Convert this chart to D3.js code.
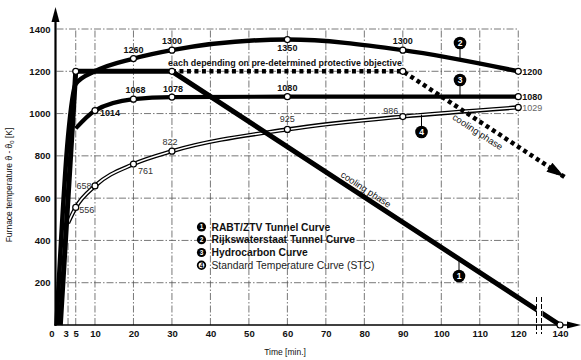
<!DOCTYPE html>
<html>
<head>
<meta charset="utf-8">
<script src="https://cdn.jsdelivr.net/npm/d3@7"></script>
<style>
  html, body { margin: 0; padding: 0; background: #fff; }
  svg { display: block; font-family: "Liberation Sans", Arial, Helvetica, sans-serif; }
</style>
</head>
<body>
<svg id="chart" width="581" height="360"></svg>
<script>
// ---- data -------------------------------------------------------------
const xTicks = [0, 3, 5, 10, 20, 30, 40, 50, 60, 70, 80, 90, 100, 110, 120, 140];
const yTicks = [200, 400, 600, 800, 1000, 1200, 1400];
const gridTimes = [5, 10, 20, 30, 40, 50, 60, 70, 80, 90, 100, 110, 120];

// 1 RABT/ZTV tunnel curve
const rabtTime = [1, 5, 30, 140];
const rabtTemp = [0, 1200, 1200, 0];
// 2 Rijkswaterstaat tunnel curve
const rwsTime = [0, 3, 5, 10, 20, 30, 60, 90, 120];
const rwsTemp = [0, 890, 1140, 1200, 1260, 1300, 1350, 1300, 1200];
// 3 Hydrocarbon curve
const hcTime = [5, 10, 20, 30, 60, 120];
const hcTemp = [930, 1014, 1068, 1078, 1080, 1080];
// 4 Standard temperature curve (STC)
const stcTime = [3, 5, 10, 20, 30, 60, 90, 120];
const stcTemp = [482, 556, 658, 761, 822, 925, 986, 1029];
// hold period depending on protective objective, then cooling
const holdTime = [30, 90, 143];
const holdTemp = [1200, 1200, 700];

const legendNames = [
  "RABT/ZTV Tunnel Curve",
  "Rijkswaterstaat Tunnel Curve",
  "Hydrocarbon Curve",
  "Standard Temperature Curve (STC)"
];

// ---- scales -----------------------------------------------------------
const svg = d3.select("#chart");
// broken time axis: linear up to 125 min, compressed segment to 140 min
const x = d3.scaleLinear().domain([0, 125, 140]).range([56.5, 537.5, 560]);
const y = d3.scaleLinear().domain([0, 1400]).range([325, 29]);

const pts = (t, v) => t.map((d, i) => [d, v[i]]);
const line = d3.line().x(d => x(d[0])).y(d => y(d[1]));
const smooth = d3.line().x(d => x(d[0])).y(d => y(d[1])).curve(d3.curveMonotoneX);

const defs = svg.append("defs");
defs.append("marker").attr("id", "arrowHold")
  .attr("viewBox", "0 0 10 6").attr("refX", 10).attr("refY", 3)
  .attr("markerWidth", 5).attr("markerHeight", 2.4).attr("markerUnits", "strokeWidth")
  .attr("orient", "auto")
  .append("path").attr("d", "M0,0 L10,3 L0,6 Z").attr("fill", "#000");

// ---- grid -------------------------------------------------------------
const grid = svg.append("g").attr("stroke", "#555").attr("stroke-width", 0.8)
  .attr("stroke-dasharray", "7,2,1.5,2").attr("fill", "none");
grid.selectAll("line.v").data(gridTimes).join("line")
  .attr("x1", d => x(d)).attr("x2", d => x(d))
  .attr("y1", y(0)).attr("y2", y(1400));
grid.append("line").attr("x1", x(3)).attr("x2", x(3)).attr("y1", y(0)).attr("y2", y(400));
grid.selectAll("line.h").data(yTicks).join("line")
  .attr("x1", x(0)).attr("x2", x(120))
  .attr("y1", d => y(d)).attr("y2", d => y(d));

// ---- axes -------------------------------------------------------------
const yAxis = svg.append("g").attr("transform", `translate(${x(0)},0)`)
  .call(d3.axisLeft(y).tickValues(yTicks).tickSize(0).tickPadding(6).tickFormat(d3.format("d")));
yAxis.select(".domain").remove();
yAxis.selectAll("text").attr("font-size", 9.5).attr("font-weight", "bold")
  .attr("font-family", "Liberation Sans, Arial, sans-serif").attr("fill", "#111");

const xAxis = svg.append("g").attr("transform", `translate(0,${y(0)})`)
  .call(d3.axisBottom(x).tickValues(xTicks).tickSize(0).tickPadding(5).tickFormat(d3.format("d")));
xAxis.select(".domain").remove();
xAxis.selectAll("text").attr("font-size", 9.5).attr("font-weight", "bold")
  .attr("font-family", "Liberation Sans, Arial, sans-serif").attr("fill", "#111")
  .attr("dx", d => d === 0 ? -5 : d === 3 ? -2.5 : 0);

// axis lines with arrows
svg.append("line").attr("x1", x(0) - 1).attr("x2", x(0) - 1).attr("y1", y(0) + 1).attr("y2", 20)
  .attr("stroke", "#000").attr("stroke-width", 2.2);
svg.append("path").attr("d", `M${x(0) - 1},7 L${x(0) - 5},22 L${x(0) + 3},22 Z`).attr("fill", "#000");
svg.append("line").attr("x1", x(0) - 2).attr("x2", 570).attr("y1", y(0)).attr("y2", y(0))
  .attr("stroke", "#000").attr("stroke-width", 1.6);
svg.append("path").attr("d", `M581,${y(0)} L567,${y(0) - 3.5} L567,${y(0) + 3.5} Z`).attr("fill", "#000");

// axis titles
svg.append("text").attr("x", 285).attr("y", 355).attr("text-anchor", "middle")
  .attr("font-size", 8.5).attr("fill", "#111").text("Time  [min.]");
const yt = svg.append("text").attr("transform", "translate(12,185) rotate(-90)")
  .attr("text-anchor", "middle").attr("font-size", 8.5).attr("fill", "#111");
yt.append("tspan").text("Furnace temperature ϑ - ϑ");
yt.append("tspan").attr("font-size", 6).attr("dy", 2).text("0");
yt.append("tspan").attr("dy", -2).text("  [K]");

// ---- curves -----------------------------------------------------------
const stc = pts(stcTime, stcTemp);
svg.append("path").attr("d", smooth(stc)).attr("fill", "none").attr("stroke", "#000").attr("stroke-width", 4.2);
svg.append("path").attr("d", smooth(stc)).attr("fill", "none").attr("stroke", "#fff").attr("stroke-width", 1.6);

svg.append("path").attr("d", smooth(pts(hcTime, hcTemp))).attr("fill", "none")
  .attr("stroke", "#000").attr("stroke-width", 4.2);

svg.append("path").attr("d", smooth(pts(rwsTime, rwsTemp))).attr("fill", "none")
  .attr("stroke", "#000").attr("stroke-width", 4.5);

svg.append("path").attr("d", line(pts(holdTime, holdTemp))).attr("fill", "none")
  .attr("stroke", "#000").attr("stroke-width", 4.5).attr("stroke-dasharray", "4,3.5")
  .attr("marker-end", "url(#arrowHold)");

svg.append("path").attr("d", line(pts(rabtTime, rabtTemp))).attr("fill", "none")
  .attr("stroke", "#000").attr("stroke-width", 5).attr("stroke-linejoin", "miter");

// axis break
svg.append("rect").attr("x", x(125) - 1).attr("y", 290).attr("width", 6).attr("height", 32).attr("fill", "#fff");
[x(125) - 1, x(125) + 4].forEach(bx => {
  svg.append("line").attr("x1", bx).attr("x2", bx).attr("y1", 297).attr("y2", 334)
    .attr("stroke", "#000").attr("stroke-width", 1).attr("stroke-dasharray", "5,2");
});

// ---- point markers ----------------------------------------------------
const markerPts = [
  ...pts([5, 30, 140], [1200, 1200, 0]),
  ...pts(rwsTime.slice(4), rwsTemp.slice(4)),
  ...pts(hcTime.slice(1), hcTemp.slice(1)),
  ...pts(stcTime.slice(1), stcTemp.slice(1)),
  [holdTime[1], holdTemp[1]]
];
svg.selectAll("circle.pt").data(markerPts).join("circle")
  .attr("cx", d => x(d[0])).attr("cy", d => y(d[1])).attr("r", 3)
  .attr("fill", "#fff").attr("stroke", "#000").attr("stroke-width", 1.2);

// ---- value labels -----------------------------------------------------
const valueLabels = [
  // [time, value, dx, dy, anchor, weight, colour]
  [20, 1260, 0, -6, "middle", "bold", "#111"],
  [30, 1300, 0, -6, "middle", "bold", "#111"],
  [60, 1350, 0, 11, "middle", "bold", "#111"],
  [90, 1300, 0, -6, "middle", "bold", "#111"],
  [120, 1200, 4, 3.5, "start", "bold", "#111"],
  [10, 1014, 5, 5, "start", "bold", "#111"],
  [20, 1068, 2, -6, "middle", "bold", "#111"],
  [30, 1078, 1, -5, "middle", "bold", "#111"],
  [60, 1080, 0, -6, "middle", "bold", "#111"],
  [120, 1080, 4, 3.5, "start", "bold", "#111"],
  [120, 1029, 4, 3.5, "start", "normal", "#666"],
  [90, 986, -12, -3, "middle", "normal", "#333"],
  [60, 925, 0, -7, "middle", "normal", "#333"],
  [30, 822, -2, -6, "middle", "normal", "#333"],
  [20, 761, 12, 10, "middle", "normal", "#333"],
  [10, 658, -11, 3, "middle", "normal", "#333"],
  [5, 556, 11, 6, "middle", "normal", "#333"]
];
svg.selectAll("text.val").data(valueLabels).join("text")
  .attr("x", d => x(d[0]) + d[2]).attr("y", d => y(d[1]) + d[3])
  .attr("text-anchor", d => d[4]).attr("font-weight", d => d[5]).attr("fill", d => d[6])
  .attr("font-size", 9).text(d => d[1]);

// ---- annotations ------------------------------------------------------
svg.append("text").attr("x", 285).attr("y", 66).attr("text-anchor", "middle")
  .attr("font-size", 8.9).attr("font-weight", "bold").attr("fill", "#111")
  .text("each depending on pre-determined protective objective");

const ang = Math.atan2(y(0) - y(1200), x(140) - x(30)) * 180 / Math.PI;
const rabtAt = px => [px, y(1200) + (px - x(30)) * (y(0) - y(1200)) / (x(140) - x(30))];
const [cx1, cy1] = rabtAt(362);
svg.append("text").attr("transform", `translate(${cx1},${cy1}) rotate(${ang})`)
  .attr("dy", -4).attr("text-anchor", "middle").attr("font-size", 9.4).attr("fill", "#111")
  .text("cooling phase");
const holdAt = px => [px, y(1200) + (px - x(90)) * (y(700) - y(1200)) / (x(143) - x(90))];
const [cx2, cy2] = holdAt(483);
svg.append("text").attr("transform", `translate(${cx2},${cy2}) rotate(${ang})`)
  .attr("dy", 13).attr("text-anchor", "middle").attr("font-size", 9.4).attr("fill", "#111")
  .text("cooling phase");

// numbered callouts on the curves: [number, time on curve, value on curve, callout x, callout y]
const callouts = [
  [2, 105, 1255, 460, 43],
  [3, 105, 1080, 460, 80],
  [4, 95, 995, 421.5, 132],
  [1, 105, 0, 459, 276]
];
callouts.forEach(([n, t, v, cx, cy]) => {
  let ly = n === 1 ? rabtAt(cx)[1] : y(v);
  svg.append("line").attr("x1", cx).attr("x2", cx).attr("y1", ly)
    .attr("y2", cy + (ly < cy ? -6 : 6)).attr("stroke", "#000").attr("stroke-width", 1);
  svg.append("circle").attr("cx", cx).attr("cy", cy).attr("r", 6.3).attr("fill", "#000");
  svg.append("text").attr("x", cx).attr("y", cy + 3).attr("text-anchor", "middle")
    .attr("font-size", 8.5).attr("font-weight", "bold").attr("fill", "#fff").text(n);
});

// ---- legend -----------------------------------------------------------
const lg = svg.append("g");
legendNames.forEach((name, i) => {
  const ly = 230.5 + i * 12.8;
  const last = i === 3;
  lg.append("circle").attr("cx", 201.5).attr("cy", ly - 3.6).attr("r", last ? 3.8 : 4.6)
    .attr("fill", last ? "#fff" : "#000").attr("stroke", "#000").attr("stroke-width", last ? 1.8 : 0);
  lg.append("text").attr("x", 201.5).attr("y", ly - 1.2).attr("text-anchor", "middle")
    .attr("font-size", 6.5).attr("font-weight", "bold").attr("fill", last ? "#000" : "#fff").text(i + 1);
  lg.append("text").attr("x", 211.5).attr("y", ly).attr("font-size", 10.3)
    .attr("font-weight", last ? "normal" : "bold").attr("fill", last ? "#222" : "#111").text(name);
});
</script>
</body>
</html>
